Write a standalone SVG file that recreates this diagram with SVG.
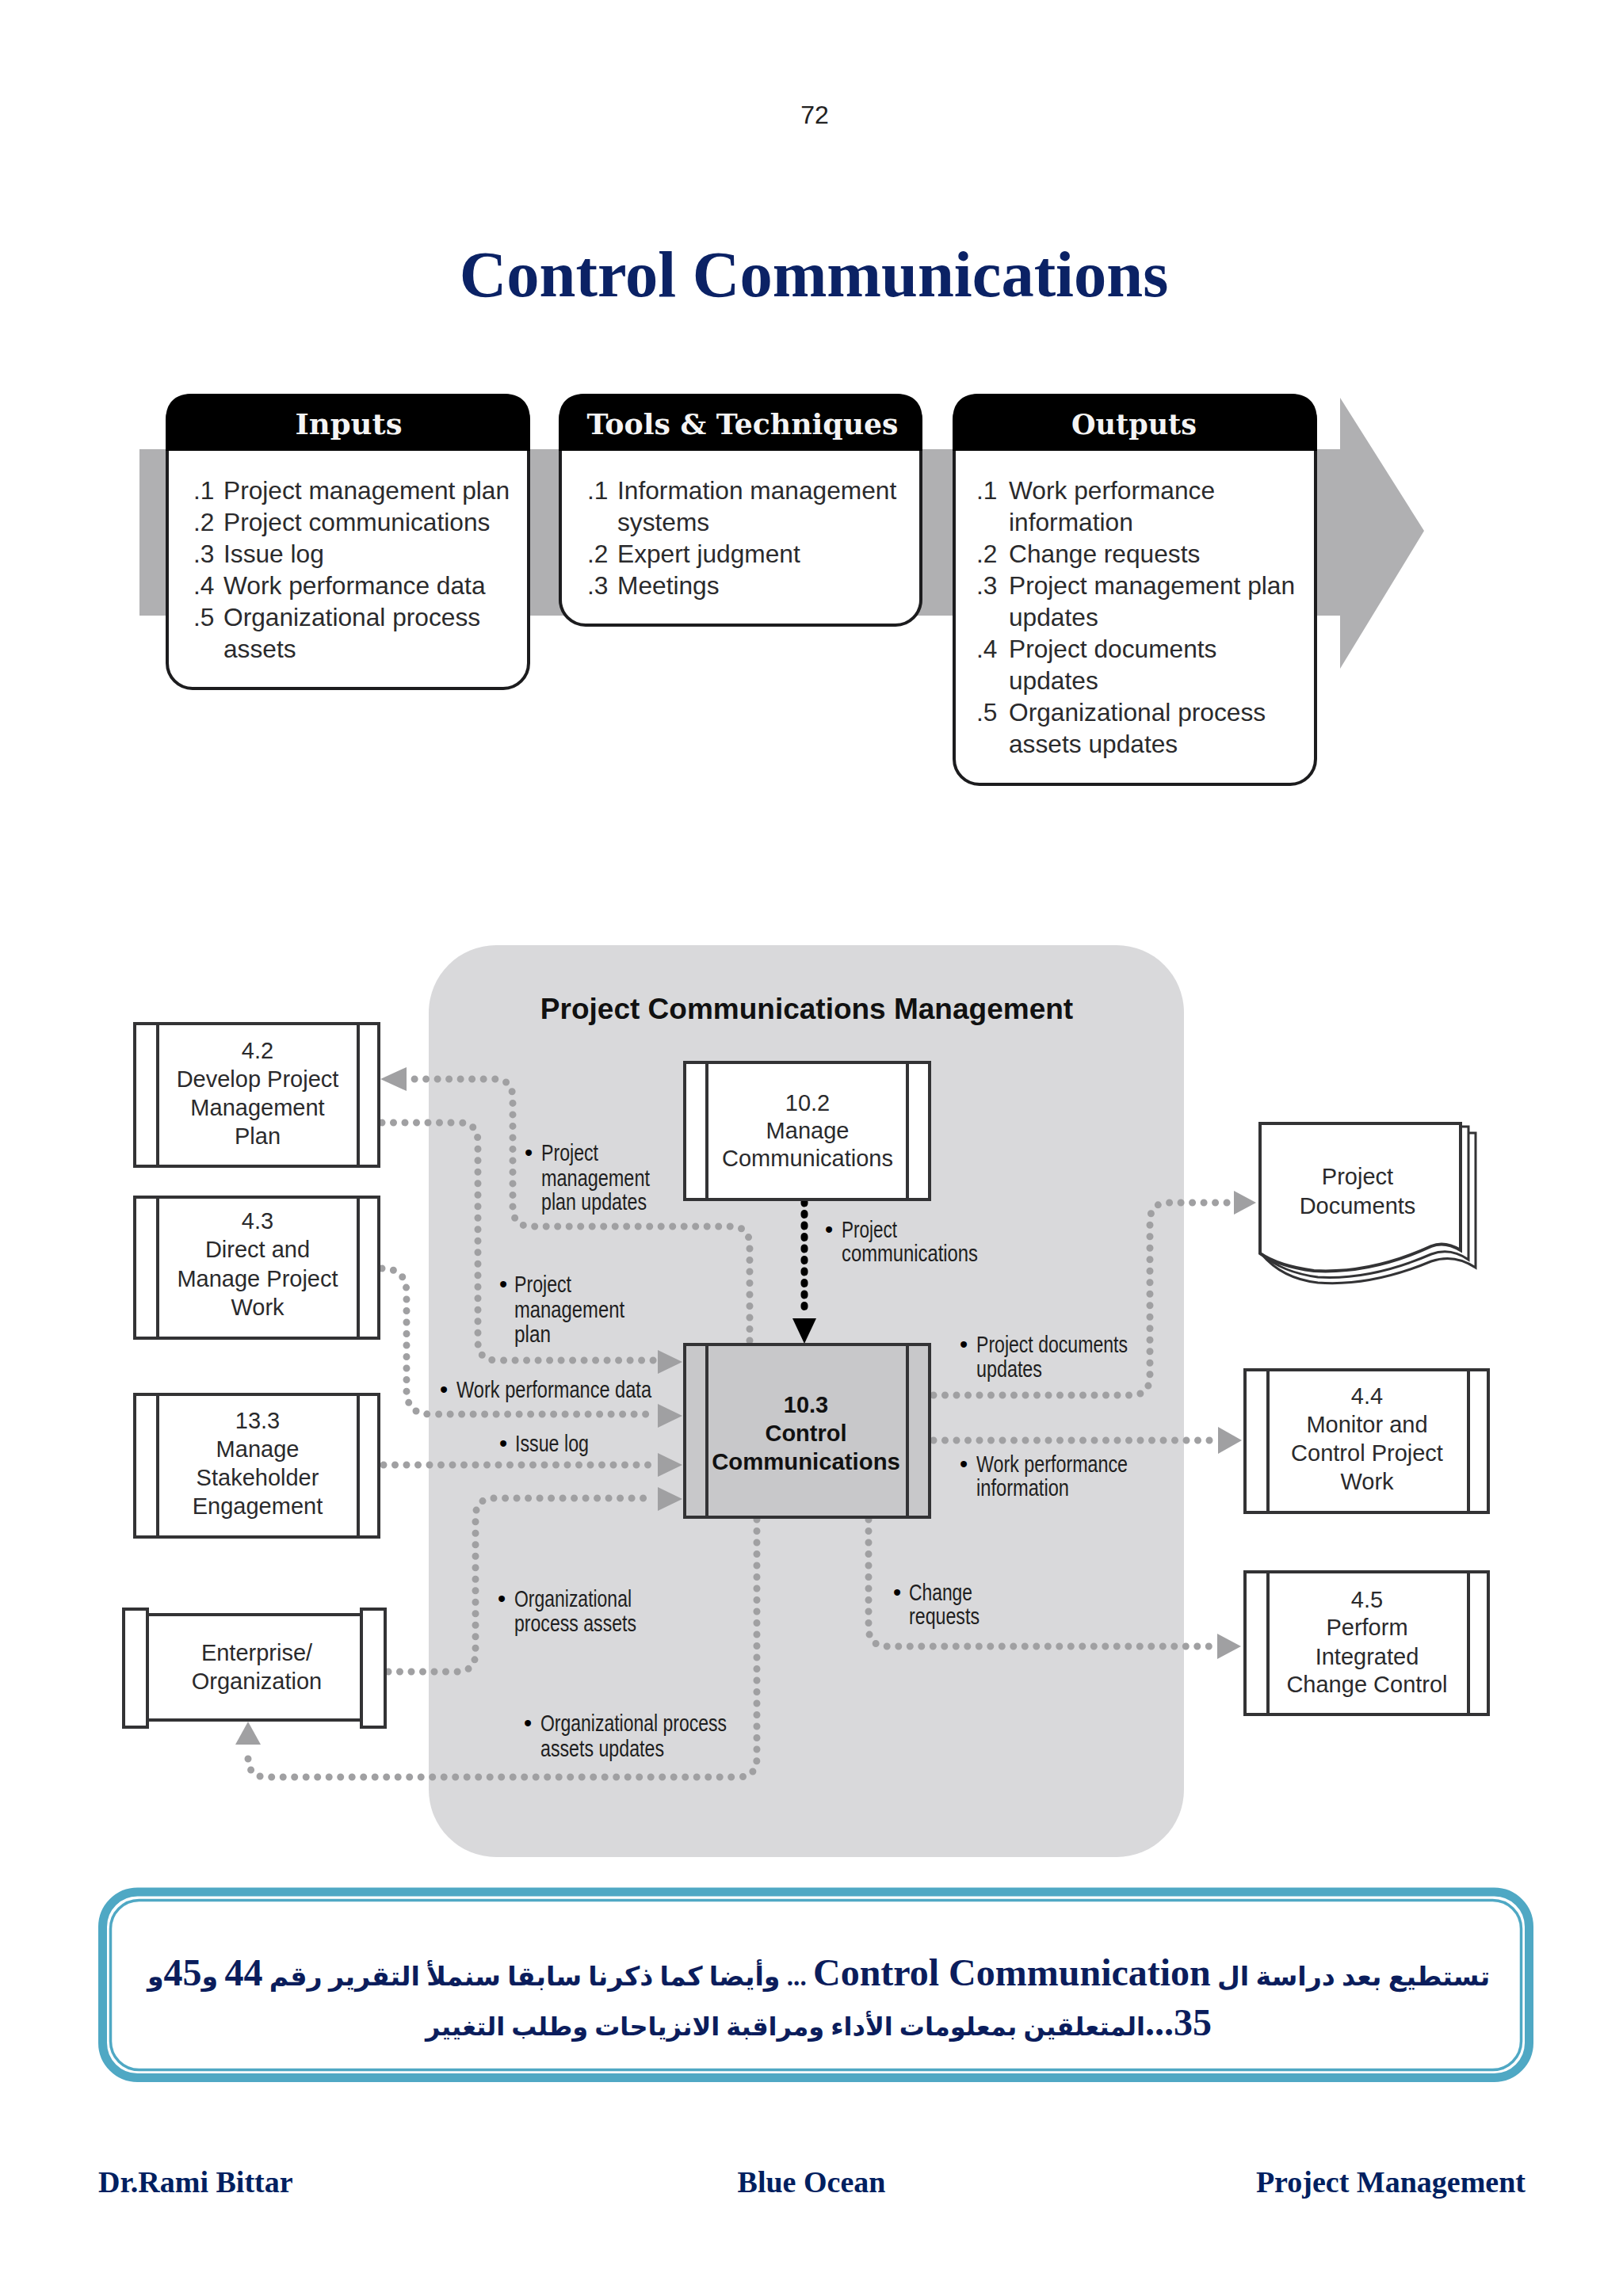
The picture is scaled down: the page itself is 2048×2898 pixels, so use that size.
<svg xmlns="http://www.w3.org/2000/svg" width="2048" height="2898" viewBox="0 0 2048 2898">
<style>
text{font-family:"Liberation Sans",Arial,sans-serif;fill:#1e1e20}
.hd{font-family:"DejaVu Serif",serif;font-weight:700;font-size:35px;fill:#f4f4f4;text-anchor:middle}
.it{font-size:31.7px;fill:#2a2a2c}
.pr{font-size:29px;text-anchor:middle;fill:#2a2a2c}
.lab{font-size:29px;fill:#1e1e20}
.bul{font-size:29px;text-anchor:middle;fill:#000}
.bx{fill:#fff;stroke:#333335;stroke-width:4}
.bar{stroke:#333335;stroke-width:4}
.tb{fill:#fff;stroke:#1c1c1e;stroke-width:4}
.dot{fill:none;stroke:#a0a0a2;stroke-width:9;stroke-linecap:round;stroke-dasharray:0 14.5}
.ah{fill:#a0a0a2}
.ser{font-family:"Liberation Serif","Times New Roman",serif;font-weight:700;fill:#002060}
.ar{font-family:"Liberation Serif","DejaVu Sans",sans-serif;font-weight:700;font-size:33.2px;fill:#0b1d5c;text-anchor:middle;direction:rtl}
.lat{font-size:48px}
</style>
<rect width="2048" height="2898" fill="#fff"/>
<text id="page-number" x="1028" y="156" text-anchor="middle" style="font-size:32px;fill:#222">72</text>
<text id="title" class="ser" x="1027" y="374" text-anchor="middle" style="font-size:82.5px;fill:#0b2265">Control Communications</text>

<g id="ito-arrow"><path d="M176 567H1691V502L1797 670L1691 844V777H176Z" fill="#b0b0b2"/></g>

<g id="inputs">
<rect class="tb" x="211" y="499" width="456" height="370" rx="32"/>
<path d="M209 569V531Q209 497 243 497H635Q669 497 669 531V569Z" fill="#000"/>
<text class="hd" x="440" y="548" textLength="135" lengthAdjust="spacingAndGlyphs">Inputs</text>
<text class="it" x="244" y="630">.1</text><text class="it" x="282" y="630">Project management plan</text>
<text class="it" x="244" y="670">.2</text><text class="it" x="282" y="670">Project communications</text>
<text class="it" x="244" y="710">.3</text><text class="it" x="282" y="710">Issue log</text>
<text class="it" x="244" y="750">.4</text><text class="it" x="282" y="750">Work performance data</text>
<text class="it" x="244" y="790">.5</text><text class="it" x="282" y="790">Organizational process</text>
<text class="it" x="282" y="830">assets</text>
</g>
<g id="tools">
<rect class="tb" x="707" y="499" width="455" height="290" rx="32"/>
<path d="M705 569V531Q705 497 739 497H1130Q1164 497 1164 531V569Z" fill="#000"/>
<text class="hd" x="937" y="548" textLength="393" lengthAdjust="spacingAndGlyphs">Tools &amp; Techniques</text>
<text class="it" x="741" y="630">.1</text><text class="it" x="779" y="630">Information management</text>
<text class="it" x="779" y="670">systems</text>
<text class="it" x="741" y="710">.2</text><text class="it" x="779" y="710">Expert judgment</text>
<text class="it" x="741" y="750">.3</text><text class="it" x="779" y="750">Meetings</text>
</g>
<g id="outputs">
<rect class="tb" x="1204" y="499" width="456" height="491" rx="32"/>
<path d="M1202 569V531Q1202 497 1236 497H1628Q1662 497 1662 531V569Z" fill="#000"/>
<text class="hd" x="1431" y="548" textLength="158" lengthAdjust="spacingAndGlyphs">Outputs</text>
<text class="it" x="1232" y="630">.1</text><text class="it" x="1273" y="630">Work performance</text>
<text class="it" x="1273" y="670">information</text>
<text class="it" x="1232" y="710">.2</text><text class="it" x="1273" y="710">Change requests</text>
<text class="it" x="1232" y="750">.3</text><text class="it" x="1273" y="750">Project management plan</text>
<text class="it" x="1273" y="790">updates</text>
<text class="it" x="1232" y="830">.4</text><text class="it" x="1273" y="830">Project documents</text>
<text class="it" x="1273" y="870">updates</text>
<text class="it" x="1232" y="910">.5</text><text class="it" x="1273" y="910">Organizational process</text>
<text class="it" x="1273" y="950">assets updates</text>
</g>

<g id="panel">
<rect x="541" y="1193" width="953" height="1151" rx="85" fill="#d9d9db"/>
<text x="1018" y="1286" text-anchor="middle" style="font-size:37px;font-weight:700;fill:#111">Project Communications Management</text>
</g>

<g id="connectors">
<path class="dot" d="M946 1692V1572Q946 1548 922 1548H671Q647 1548 647 1524V1386Q647 1362 623 1362H520"/>
<polygon class="ah" points="480,1362 513,1347 513,1377"/>
<path class="dot" d="M482 1417H579Q603 1417 603 1441V1693Q603 1717 627 1717H826"/>
<polygon class="ah" points="861,1719 830,1704 830,1734"/>
<path class="dot" d="M482 1601Q513 1601 513 1632V1755Q513 1785 543 1785H826"/>
<polygon class="ah" points="861,1787 830,1772 830,1802"/>
<path class="dot" d="M484 1849H826"/>
<polygon class="ah" points="861,1849 830,1834 830,1864"/>
<path class="dot" d="M490 2110H576Q600 2110 600 2086V1915Q600 1891 624 1891H826"/>
<polygon class="ah" points="861,1892 830,1877 830,1907"/>
<path class="dot" d="M955 1918V2219Q955 2243 931 2243H337Q313 2243 313 2219V2206"/>
<polygon class="ah" points="313,2173 297,2202 329,2202"/>
<path class="dot" d="M1096 1918V2054Q1096 2078 1120 2078H1532"/>
<polygon class="ah" points="1566,2078 1536,2062 1536,2094"/>
<path class="dot" d="M1178 1761H1427Q1451 1761 1451 1737V1542Q1451 1518 1475 1518H1552"/>
<polygon class="ah" points="1585,1518 1557,1503 1557,1533"/>
<path class="dot" d="M1178 1818H1532"/>
<polygon class="ah" points="1567,1818 1537,1801 1537,1835"/>
<path class="dot" style="stroke:#000;stroke-dasharray:2 12.5" d="M1015 1517V1660"/>
<polygon points="1015,1696 1000,1664 1030,1664" fill="#000"/>
</g>

<g id="connector-labels">
<text class="bul" x="667" y="1465">•</text>
<text class="lab" x="683" y="1465" textLength="72" lengthAdjust="spacingAndGlyphs">Project</text>
<text class="lab" x="683" y="1497" textLength="137" lengthAdjust="spacingAndGlyphs">management</text>
<text class="lab" x="683" y="1527" textLength="133" lengthAdjust="spacingAndGlyphs">plan updates</text>
<text class="bul" x="635" y="1631">•</text>
<text class="lab" x="649" y="1631" textLength="72" lengthAdjust="spacingAndGlyphs">Project</text>
<text class="lab" x="649" y="1663" textLength="139" lengthAdjust="spacingAndGlyphs">management</text>
<text class="lab" x="649" y="1694" textLength="46" lengthAdjust="spacingAndGlyphs">plan</text>
<text class="bul" x="560" y="1764">•</text>
<text class="lab" x="576" y="1764" textLength="246" lengthAdjust="spacingAndGlyphs">Work performance data</text>
<text class="bul" x="635" y="1832">•</text>
<text class="lab" x="650" y="1832" textLength="93" lengthAdjust="spacingAndGlyphs">Issue log</text>
<text class="bul" x="633" y="2028">•</text>
<text class="lab" x="649" y="2028" textLength="148" lengthAdjust="spacingAndGlyphs">Organizational</text>
<text class="lab" x="649" y="2059" textLength="154" lengthAdjust="spacingAndGlyphs">process assets</text>
<text class="bul" x="666" y="2185">•</text>
<text class="lab" x="682" y="2185" textLength="235" lengthAdjust="spacingAndGlyphs">Organizational process</text>
<text class="lab" x="682" y="2217" textLength="156" lengthAdjust="spacingAndGlyphs">assets updates</text>
<text class="bul" x="1046" y="1562">•</text>
<text class="lab" x="1062" y="1562" textLength="70" lengthAdjust="spacingAndGlyphs">Project</text>
<text class="lab" x="1062" y="1592" textLength="172" lengthAdjust="spacingAndGlyphs">communications</text>
<text class="bul" x="1216" y="1707">•</text>
<text class="lab" x="1232" y="1707" textLength="191" lengthAdjust="spacingAndGlyphs">Project documents</text>
<text class="lab" x="1232" y="1738" textLength="83" lengthAdjust="spacingAndGlyphs">updates</text>
<text class="bul" x="1216" y="1858">•</text>
<text class="lab" x="1232" y="1858" textLength="191" lengthAdjust="spacingAndGlyphs">Work performance</text>
<text class="lab" x="1232" y="1888" textLength="117" lengthAdjust="spacingAndGlyphs">information</text>
<text class="bul" x="1132" y="2020">•</text>
<text class="lab" x="1147" y="2020" textLength="80" lengthAdjust="spacingAndGlyphs">Change</text>
<text class="lab" x="1147" y="2050" textLength="89" lengthAdjust="spacingAndGlyphs">requests</text>
</g>

<g id="n4-2"><rect class="bx" x="170" y="1292" width="308" height="180"/><path class="bar" d="M199 1292V1472M452 1292V1472"/>
<text class="pr" x="325" y="1336">4.2</text><text class="pr" x="325" y="1372">Develop Project</text><text class="pr" x="325" y="1408">Management</text><text class="pr" x="325" y="1444">Plan</text></g>
<g id="n4-3"><rect class="bx" x="170" y="1511" width="308" height="178"/><path class="bar" d="M199 1511V1689M452 1511V1689"/>
<text class="pr" x="325" y="1551">4.3</text><text class="pr" x="325" y="1587">Direct and</text><text class="pr" x="325" y="1624">Manage Project</text><text class="pr" x="325" y="1660">Work</text></g>
<g id="n13-3"><rect class="bx" x="170" y="1760" width="308" height="180"/><path class="bar" d="M199 1760V1940M452 1760V1940"/>
<text class="pr" x="325" y="1803">13.3</text><text class="pr" x="325" y="1839">Manage</text><text class="pr" x="325" y="1875">Stakeholder</text><text class="pr" x="325" y="1911">Engagement</text></g>
<g id="n10-2"><rect class="bx" x="864" y="1341" width="309" height="173"/><path class="bar" d="M892 1341V1514M1145 1341V1514"/>
<text class="pr" x="1019" y="1402">10.2</text><text class="pr" x="1019" y="1437">Manage</text><text class="pr" x="1019" y="1472">Communications</text></g>
<g id="n10-3"><rect class="bx" style="fill:#c8c8ca" x="864" y="1697" width="309" height="218"/><path class="bar" d="M892 1697V1915M1145 1697V1915"/>
<text class="pr" x="1017" y="1783" style="font-weight:700;fill:#111">10.3</text><text class="pr" x="1017" y="1819" style="font-weight:700;fill:#111">Control</text><text class="pr" x="1017" y="1855" style="font-weight:700;fill:#111;font-size:29.3px">Communications</text></g>
<g id="n4-4"><rect class="bx" x="1571" y="1729" width="307" height="180"/><path class="bar" d="M1600 1729V1909M1853 1729V1909"/>
<text class="pr" x="1725" y="1772">4.4</text><text class="pr" x="1725" y="1808">Monitor and</text><text class="pr" x="1725" y="1844">Control Project</text><text class="pr" x="1725" y="1880">Work</text></g>
<g id="n4-5"><rect class="bx" x="1571" y="1984" width="307" height="180"/><path class="bar" d="M1600 1984V2164M1853 1984V2164"/>
<text class="pr" x="1725" y="2029">4.5</text><text class="pr" x="1725" y="2064">Perform</text><text class="pr" x="1725" y="2101">Integrated</text><text class="pr" x="1725" y="2136">Change Control</text></g>
<g id="enterprise"><rect class="bx" x="186" y="2038" width="272" height="133"/><rect class="bx" x="156" y="2031" width="30" height="149"/><rect class="bx" x="456" y="2031" width="30" height="149"/>
<text class="pr" x="324" y="2096">Enterprise/</text><text class="pr" x="324" y="2132">Organization</text></g>
<g id="project-documents">
<path d="M1592 1430H1862V1600Q1835 1582 1806 1592Q1730 1624 1663 1619Q1618 1614 1592 1583Z" fill="#fff" stroke="#333335" stroke-width="3"/>
<path d="M1592 1422H1853V1590Q1830 1574 1806 1583Q1730 1616 1663 1612Q1618 1606 1592 1583Z" fill="#fff" stroke="#333335" stroke-width="3"/>
<path d="M1590 1418H1843V1578Q1823 1566 1806 1573Q1730 1608 1658 1604Q1613 1598 1590 1582Z" fill="#fff" stroke="#333335" stroke-width="4"/>
<text class="pr" x="1713" y="1495">Project</text><text class="pr" x="1713" y="1532">Documents</text>
</g>

<g id="note">
<rect x="129.5" y="2388" width="1800" height="234.5" rx="44" fill="#fff" stroke="#4fa8c4" stroke-width="11"/>
<rect x="139.5" y="2398.5" width="1780" height="214" rx="36" fill="#fff" stroke="#4fa8c4" stroke-width="3.5"/>
<text class="ar" x="1033" y="2506">تستطيع بعد دراسة ال <tspan class="lat">Control Communication</tspan> ... وأيضا كما ذكرنا سابقا سنملأ التقرير رقم <tspan class="lat">44</tspan> و<tspan class="lat">45</tspan>و</text>
<text class="ar" x="1033" y="2569" style="font-size:32px"><tspan class="lat">35...</tspan>المتعلقين بمعلومات الأداء ومراقبة الانزياحات وطلب التغيير</text>
</g>

<g id="footer">
<text class="ser" x="124" y="2767" style="font-size:38px">Dr.Rami Bittar</text>
<text class="ser" x="1024" y="2767" text-anchor="middle" style="font-size:38px">Blue Ocean</text>
<text class="ser" x="1925" y="2767" text-anchor="end" style="font-size:38px">Project Management</text>
</g>
</svg>
